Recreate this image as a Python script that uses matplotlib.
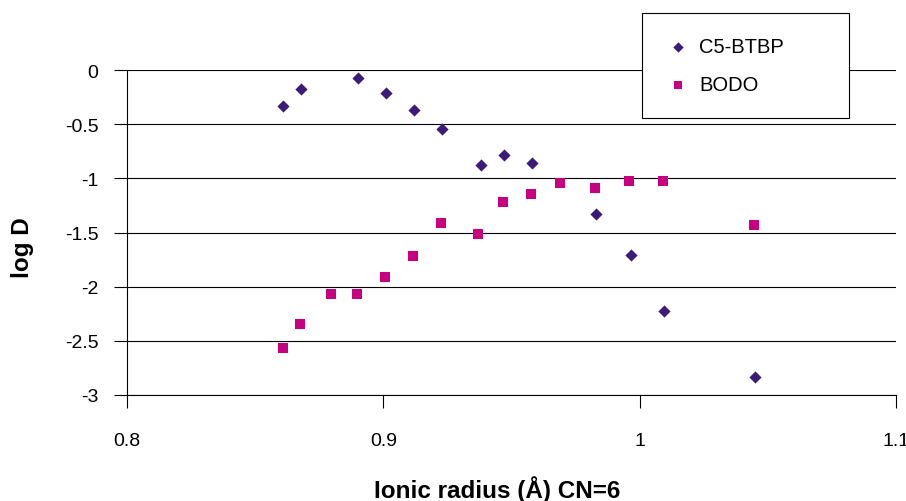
import matplotlib
matplotlib.use("Agg")
import matplotlib.pyplot as plt

# Data
c5_x = [0.861, 0.868, 0.890, 0.901, 0.912, 0.923, 0.938, 0.947, 0.958, 0.983, 0.9965, 1.0094, 1.0448]
c5_y = [-0.332, -0.175, -0.074, -0.212, -0.369, -0.545, -0.877, -0.785, -0.859, -1.33, -1.71, -2.22, -2.83]

bodo_x = [0.861, 0.8674, 0.8795, 0.8897, 0.9006, 0.9115, 0.9224, 0.937, 0.9466, 0.9575, 0.969, 0.9827, 0.996, 1.009, 1.0445]
bodo_y = [-2.567, -2.34, -2.07, -2.07, -1.91, -1.72, -1.41, -1.51, -1.22, -1.14, -1.04, -1.09, -1.02, -1.02, -1.43]

xticks = [0.8, 0.9, 1.0, 1.1]
xticklabels = ["0.8", "0.9", "1", "1.1"]
yticks = [0, -0.5, -1, -1.5, -2, -2.5, -3]
yticklabels = ["0", "-0.5", "-1", "-1.5", "-2", "-2.5", "-3"]

W, H = 906, 502
plt.rcParams['font.family'] = ['Liberation Sans', 'DejaVu Sans']

fig = plt.figure(figsize=(W / 100, H / 100), dpi=100)
ax = fig.add_axes([127 / W, 1 - 396 / H, (896 - 127) / W, (396 - 71) / H])

ax.scatter(c5_x, c5_y, marker='D', s=6.2 ** 2, color='#3C1A7A', linewidths=0, label='C5-BTBP', zorder=3)
ax.scatter(bodo_x, bodo_y, marker='s', s=7.3 ** 2, color='#C8007F', linewidths=0, label='BODO', zorder=3)

ax.set_xlim(0.8, 1.1)
ax.set_ylim(-3, 0)
ax.set_xticks(xticks)
ax.set_xticklabels(xticklabels)
ax.set_yticks(yticks)
ax.set_yticklabels(yticklabels)

for y in yticks:
    ax.axhline(y, color='black', linewidth=0.8, zorder=1)

for s in ['top', 'right']:
    ax.spines[s].set_visible(False)
for s in ['left', 'bottom']:
    ax.spines[s].set_linewidth(0.8)
    ax.spines[s].set_color('black')

ax.tick_params(axis='both', direction='out', length=9.5, width=0.8, labelsize=14, colors='black')
ax.tick_params(axis='y', pad=11)
ax.tick_params(axis='x', pad=17)

fig.text(22 / W, 1 - 248 / H, 'log D', rotation=90, fontsize=17.5, fontweight='bold',
         ha='center', va='center')
fig.text(497 / W, 1 - 490 / H, 'Ionic radius (Å) CN=6', fontsize=17.5, fontweight='bold',
         ha='center', va='center')

leg = ax.legend(loc='upper left', bbox_to_anchor=(642 / W, 1 - 14 / H, 207 / W, 1e-6),
                bbox_transform=fig.transFigure, mode='expand', frameon=True, fancybox=False,
                fontsize=14.5, borderpad=1.2, labelspacing=0.95, handlelength=1.2,
                handletextpad=0.45, markerscale=0.85, borderaxespad=0)
leg.get_frame().set_edgecolor('black')
leg.get_frame().set_linewidth(0.8)
leg.get_frame().set_facecolor('white')
leg.get_frame().set_alpha(1)
leg.set_zorder(5)

fig.savefig('out.png', dpi=100)
